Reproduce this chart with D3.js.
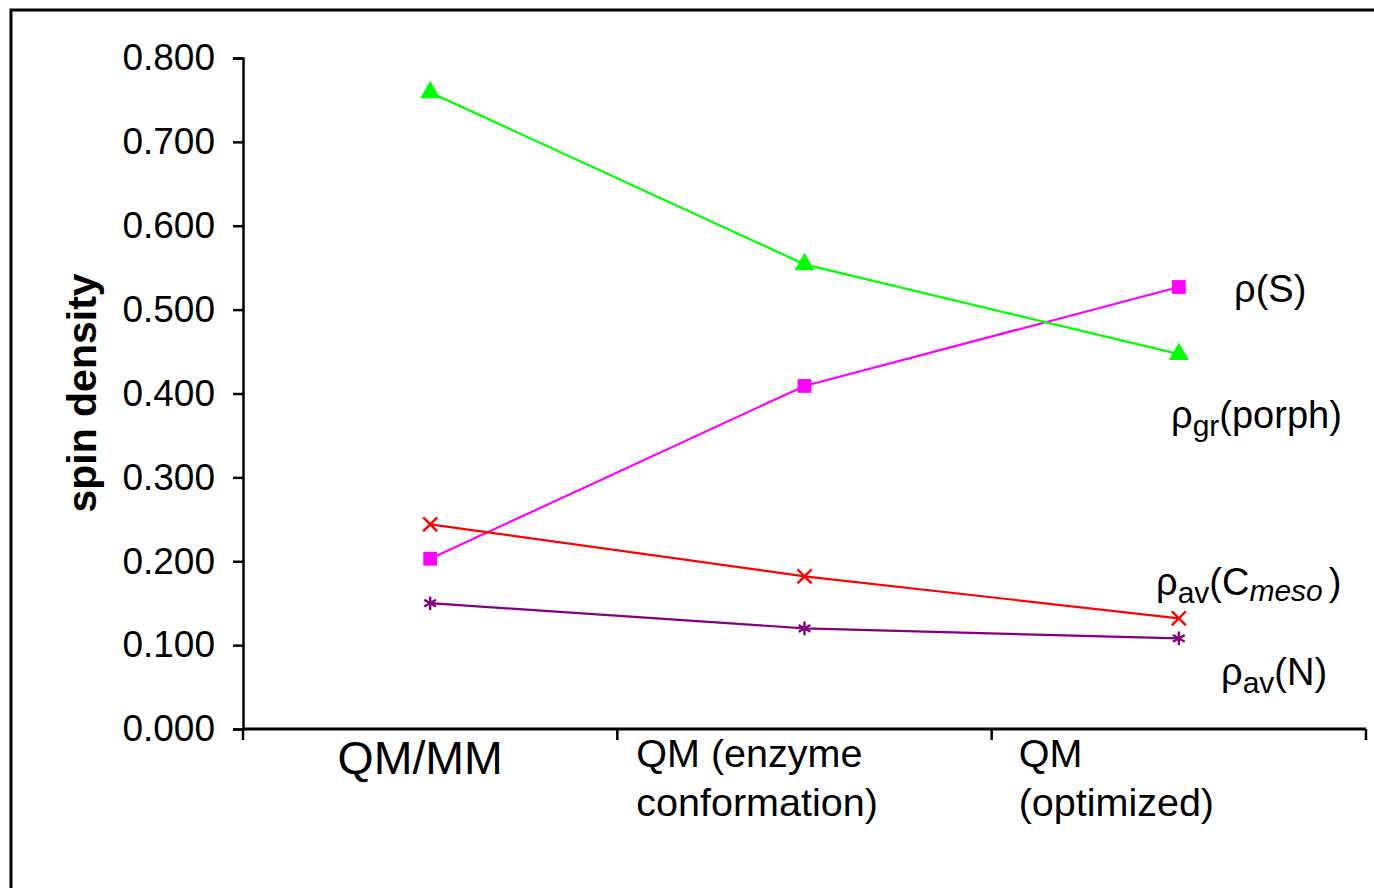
<!DOCTYPE html>
<html>
<head>
<meta charset="utf-8">
<script src="https://cdn.jsdelivr.net/npm/d3@7"></script>
<style>
    body { margin: 0; background: #fff; }
    svg text { font-family: "Liberation Sans", Arial, sans-serif; fill: #000; }
</style>
</head>
<body>
<svg id="chart" width="1374" height="888"></svg>
<script>
// data
var categories = ['QM/MM', 'QM (enzyme conformation)', 'QM (optimized)'];
var categoryLines = [['QM/MM'], ['QM (enzyme', 'conformation)'], ['QM', '(optimized)']];
var yTicks = [0, 0.1, 0.2, 0.3, 0.4, 0.5, 0.6, 0.7, 0.8];

var rhoS = [0.203, 0.409, 0.527];
var rhoPorph = [0.759, 0.554, 0.447];
var rhoCmeso = [0.244, 0.182, 0.132];
var rhoN = [0.150, 0.120, 0.108];

var series = [
    { name: 'S', values: rhoS, color: '#ff00ff', symbol: d3.symbolSquare, size: 190, filled: true },
    { name: 'porph', values: rhoPorph, color: '#00ff00', symbol: d3.symbolTriangle, size: 175, filled: true },
    { name: 'Cmeso', values: rhoCmeso, color: '#ff0000', symbol: d3.symbolX, size: 130, filled: false },
    { name: 'N', values: rhoN, color: '#800080', symbol: d3.symbolAsterisk, size: 130, filled: false },
];

var svg = d3.select('#chart');

// outer frame (right and bottom edges fall outside the picture)
svg.append('rect')
    .attr('x', 11).attr('y', 10)
    .attr('width', 1420).attr('height', 920)
    .attr('fill', 'none')
    .attr('stroke', '#000')
    .attr('stroke-width', 3);

var x = d3.scaleBand().domain(categories).range([243, 1366]).padding(0);
var y = d3.scaleLinear().domain([0, 0.8]).range([729, 58]);

// y axis
var yAxis = svg.append('g')
    .attr('transform', 'translate(243,0)')
    .call(d3.axisLeft(y).tickValues(yTicks).tickFormat(d3.format('.3f')).tickSize(10).tickPadding(18));
yAxis.select('.domain').attr('stroke-width', 2.5);
yAxis.selectAll('.tick line').attr('stroke-width', 2.5);
yAxis.selectAll('.tick text')
    .attr('font-family', '"Liberation Sans", Arial, sans-serif')
    .attr('font-size', 37)
    .attr('fill', '#000');

// x axis: ticks on band edges
svg.append('line')
    .attr('x1', x.range()[0]).attr('x2', x.range()[1])
    .attr('y1', y(0)).attr('y2', y(0))
    .attr('stroke', '#000').attr('stroke-width', 3);

var edges = categories.map((c) => x(c)).concat([x.range()[1]]);
svg.selectAll('.xtick')
    .data(edges)
    .enter()
    .append('line')
    .attr('class', 'xtick')
    .attr('x1', (d) => d).attr('x2', (d) => d)
    .attr('y1', y(0)).attr('y2', y(0) + 11)
    .attr('stroke', '#000').attr('stroke-width', 2.5);

// category labels
var labelOffset = [0, 19, 27];
categoryLines.forEach(function(lines, i) {
    var c = categories[i];
    var t = svg.append('text');
    if (lines.length === 1) {
        t.attr('x', x(c) + x.bandwidth() / 2 - 10)
            .attr('y', y(0) + 45)
            .attr('text-anchor', 'middle')
            .attr('font-size', 46.5)
            .text(lines[0]);
    } else {
        lines.forEach(function(l, j) {
            t.append('tspan')
                .attr('x', x(c) + labelOffset[i])
                .attr('y', y(0) + 38 + j * 49)
                .attr('font-size', 39.5)
                .text(l);
        });
    }
});

// y title
svg.append('text')
    .attr('transform', 'translate(96,393) rotate(-90)')
    .attr('text-anchor', 'middle')
    .attr('font-size', 41)
    .attr('font-weight', 'bold')
    .text('spin density');

// lines + markers
var line = d3.line()
    .x((d, i) => x(categories[i]) + x.bandwidth() / 2)
    .y((d) => y(d));

series.forEach(function(s) {
    svg.append('path')
        .attr('d', line(s.values))
        .attr('fill', 'none')
        .attr('stroke', s.color)
        .attr('stroke-width', 2.2);

    svg.selectAll('.m-' + s.name)
        .data(s.values)
        .enter()
        .append('path')
        .attr('class', 'm-' + s.name)
        .attr('transform', (d, i) => 'translate(' + (x(categories[i]) + x.bandwidth() / 2) + ',' + y(d) + ')')
        .attr('d', d3.symbol().type(s.symbol).size(s.size))
        .attr('fill', s.filled ? s.color : 'none')
        .attr('stroke', s.color)
        .attr('stroke-width', s.filled ? 0 : 2.4);
});

// series labels
function seriesLabel(px, py, sub, rest) {
    var t = svg.append('text').attr('x', px).attr('y', py).attr('font-size', 38);
    t.append('tspan').text('\u03c1');
    if (sub) {
        t.append('tspan').attr('font-size', 30).attr('dy', 8).text(sub);
        t.append('tspan').attr('dy', -8).text(rest[0]);
    } else {
        t.append('tspan').text(rest[0]);
    }
    if (rest.length > 1) {
        t.append('tspan').attr('font-size', 30).attr('font-style', 'italic').attr('dy', 6).text(rest[1]);
        t.append('tspan').attr('dy', -6).attr('dx', 6).text(rest[2]);
    }
}

seriesLabel(1234, 302, null, ['(S)']);
seriesLabel(1171, 428, 'gr', ['(porph)']);
seriesLabel(1156, 595, 'av', ['(C', 'meso', ')']);
seriesLabel(1221, 685, 'av', ['(N)']);
</script>
</body>
</html>
